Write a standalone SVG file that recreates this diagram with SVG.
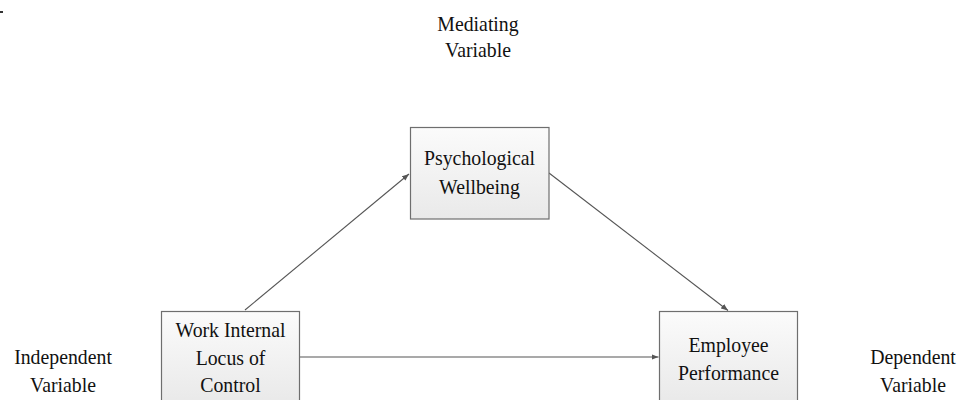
<svg xmlns="http://www.w3.org/2000/svg" width="962" height="400" viewBox="0 0 962 400">
<defs>
<linearGradient id="boxfill" x1="0" y1="0" x2="0" y2="1">
<stop offset="0" stop-color="#fbfbfb"/>
<stop offset="1" stop-color="#e9e9e9"/>
</linearGradient>
<marker id="arr" viewBox="0 0 10 10" refX="10" refY="5" markerWidth="7" markerHeight="7" markerUnits="userSpaceOnUse" orient="auto">
<path d="M0,1 L10,5 L0,9 Z" fill="#555"/>
</marker>
<style>
.box{fill:url(#boxfill);stroke:#6e6e6e;stroke-width:1.2}
.t{font-family:"Liberation Serif","Times New Roman",serif;font-size:22px;fill:#111;text-anchor:middle}
.c{stroke:#555;stroke-width:1.1;fill:none;marker-end:url(#arr)}
</style>
</defs>
<rect width="962" height="400" fill="#fff"/>
<rect x="0" y="11" width="3" height="2" fill="#333"/>
<g id="label-mediating">
<text class="t" transform="translate(478 31) scale(0.9 1)">Mediating</text>
<text class="t" transform="translate(478 57) scale(0.9 1)">Variable</text>
</g>
<g id="label-independent">
<text class="t" transform="translate(63 364) scale(0.9 1)">Independent</text>
<text class="t" transform="translate(63 392) scale(0.9 1)">Variable</text>
</g>
<g id="label-dependent">
<text class="t" transform="translate(913 364) scale(0.9 1)">Dependent</text>
<text class="t" transform="translate(913 392) scale(0.9 1)">Variable</text>
</g>
<g id="connectors">
<line class="c" x1="245" y1="310" x2="409" y2="174"/>
<line class="c" x1="549" y1="173" x2="728" y2="310.5"/>
<line class="c" x1="299" y1="357" x2="658.5" y2="357"/>
</g>
<g id="node-psych">
<rect class="box" x="410.5" y="127.5" width="138.5" height="91.5"/>
<text class="t" transform="translate(479.5 165) scale(0.9 1)">Psychological</text>
<text class="t" transform="translate(479.5 194) scale(0.9 1)">Wellbeing</text>
</g>
<g id="node-work">
<rect class="box" x="161.5" y="311.5" width="138" height="92"/>
<text class="t" transform="translate(230.5 337) scale(0.9 1)">Work Internal</text>
<text class="t" transform="translate(230.5 365) scale(0.9 1)">Locus of</text>
<text class="t" transform="translate(230.5 392) scale(0.9 1)">Control</text>
</g>
<g id="node-employee">
<rect class="box" x="659.5" y="311.5" width="138" height="92"/>
<text class="t" transform="translate(728.5 352) scale(0.9 1)">Employee</text>
<text class="t" transform="translate(728.5 380) scale(0.9 1)">Performance</text>
</g>
</svg>
